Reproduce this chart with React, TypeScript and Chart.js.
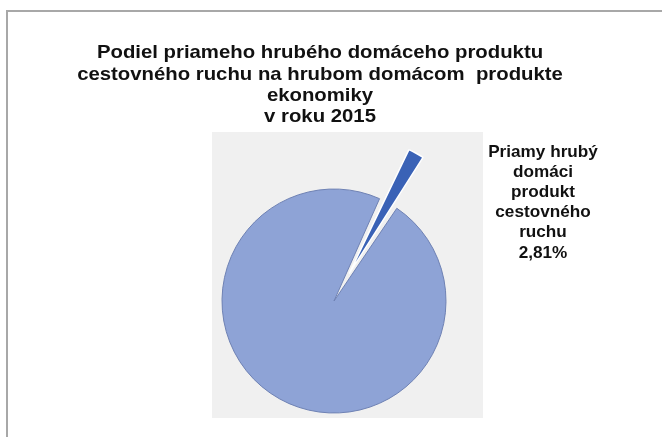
import React, { useEffect, useRef } from "react";
import { Chart, registerables } from "chart.js";

Chart.register(...registerables);

const titleLines = [
  "Podiel priameho hrubého domáceho produktu",
  "cestovného ruchu na hrubom domácom  produkte",
  "ekonomiky",
  "v roku 2015",
];
const categories = ["Priamy hrubý domáci produkt cestovného ruchu", "Ostatné"];
const values = [2.81, 97.19];
const sliceColors = ["#3a62b6", "#8ea3d6"];
const sliceBorders = ["#ffffff", "#6f82b4"];
const labelWords = ["Priamy hrubý", "domáci", "produkt", "cestovného", "ruchu"];
const labelLines = [...labelWords, values[0].toFixed(2).replace(".", ",") + "%"];

const decor = {
  id: "decor",
  beforeDraw(chart: any) {
    const ctx = chart.ctx;
    ctx.save();
    ctx.fillStyle = "#ffffff";
    ctx.fillRect(0, 0, chart.width, chart.height);
    // plot area
    ctx.fillStyle = "#f0f0f0";
    ctx.fillRect(212, 132, 271, 286);
    // frame lines (top & left)
    ctx.strokeStyle = "#a8a8a8";
    ctx.lineWidth = 2;
    ctx.beginPath();
    ctx.moveTo(7, chart.height);
    ctx.lineTo(7, 11);
    ctx.lineTo(chart.width, 11);
    ctx.stroke();
    ctx.restore();
  },
  afterDraw(chart: any) {
    const ctx = chart.ctx;
    ctx.save();
    ctx.fillStyle = "#111111";
    ctx.textAlign = "center";
    ctx.textBaseline = "middle";
    // title
    ctx.font = "bold 19px 'Liberation Sans', Arial, sans-serif";
    titleLines.forEach((t, i) => {
      ctx.save();
      ctx.translate(320, 53 + i * 21.3);
      ctx.scale(1.07, 1);
      ctx.fillText(t, 0, 0);
      ctx.restore();
    });
    // data label
    ctx.font = "bold 16.5px 'Liberation Sans', Arial, sans-serif";
    labelLines.forEach((t, i) => {
      ctx.save();
      ctx.translate(543, 152 + i * 20.2);
      ctx.scale(1.04, 1);
      ctx.fillText(t, 0, 0);
      ctx.restore();
    });
    ctx.restore();
  },
};

export default function App() {
  const ref = useRef<HTMLCanvasElement>(null);
  useEffect(() => {
    if (!ref.current) return;
    const chart = new Chart(ref.current, {
      type: "pie",
      data: {
        labels: categories,
        datasets: [
          {
            data: values,
            backgroundColor: sliceColors,
            borderColor: sliceBorders,
            borderWidth: [1.5, 1],
            offset: [125, 0],
            radius: 112,
            clip: false,
          } as any,
        ],
      },
      options: {
        responsive: false,
        animation: false,
        rotation: 24,
        layout: { padding: { left: 224, right: 218, top: 190, bottom: 25 } },
        plugins: {
          legend: { display: false },
          tooltip: { enabled: false },
          title: { display: false },
        },
      } as any,
      plugins: [decor],
    });
    return () => chart.destroy();
  }, []);
  return (
    <div style={{ position: "fixed", left: 0, top: 0, width: 662, height: 437, background: "#fff" }}>
      <canvas ref={ref} width={662} height={437} style={{ width: 662, height: 437, display: "block" }} />
    </div>
  );
}
